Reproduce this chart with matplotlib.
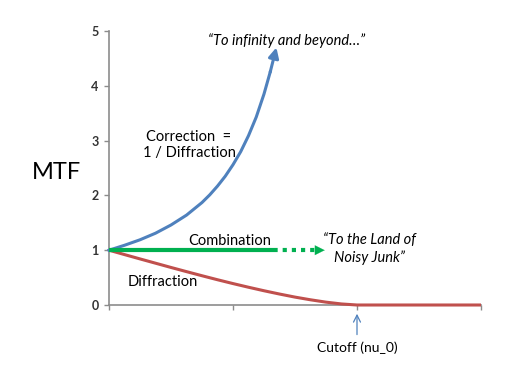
import matplotlib
matplotlib.use('Agg')
import matplotlib.pyplot as plt

# ── Data ──────────────────────────────────────────────────────────────────────
# spatial frequency (arbitrary units, cutoff at 2)
diff_x = [0.0, 0.125, 0.25, 0.375, 0.5, 0.625, 0.75, 0.875, 1.0, 1.125,
          1.25, 1.375, 1.5, 1.625, 1.75, 1.875, 2.0, 2.5, 3.0]
diff_y = [1.0, 0.920, 0.841, 0.763, 0.685, 0.609, 0.534, 0.461, 0.391, 0.324,
          0.260, 0.200, 0.144, 0.095, 0.052, 0.019, 0.0, 0.0, 0.0]

corr_x = [0.0, 0.125, 0.25, 0.375, 0.5, 0.625, 0.75, 0.8125, 0.875, 0.9375,
          1.0, 1.0625, 1.125, 1.1875, 1.25, 1.30]
corr_y = [1.0, 1.09, 1.19, 1.31, 1.46, 1.64, 1.87, 2.01, 2.17, 2.35,
          2.56, 2.80, 3.09, 3.43, 3.85, 4.25]
corr_tip = (1.35, 4.70)

comb_solid_x = [0.0, 1.35]
comb_dot_x = [1.35, 1.66]
comb_tip_x = 1.74
comb_y = 1.0

cutoff_x = 2.0
x_ticks = [0, 1, 2, 3]
y_ticks = [0, 1, 2, 3, 4, 5]

BLUE = '#4F81BD'
RED = '#C0504D'
GREEN = '#00B050'
GRAY = '#8C8C8C'

plt.rcParams['font.family'] = ['Lato', 'DejaVu Sans']

fig = plt.figure(figsize=(5.10, 3.72), dpi=100)
ax = fig.add_axes([109 / 510, 1 - 305 / 372, 372 / 510, 274 / 372])

# ── Curves ────────────────────────────────────────────────────────────────────
ax.plot(diff_x, diff_y, color=RED, lw=2.2, clip_on=False, zorder=3,
        solid_capstyle='butt')
ax.plot(corr_x, corr_y, color=BLUE, lw=2.2, clip_on=False, zorder=3,
        solid_joinstyle='round')
ax.annotate('', xy=corr_tip, xytext=(corr_x[-1], corr_y[-1]),
            arrowprops=dict(arrowstyle='-|>,head_length=0.6,head_width=0.3',
                            color=BLUE, lw=2.2, shrinkA=0, shrinkB=0))

ax.plot(comb_solid_x, [comb_y] * 2, color=GREEN, lw=3.0, zorder=4,
        solid_capstyle='butt')
ax.plot(comb_dot_x, [comb_y] * 2, color=GREEN, lw=3.0, zorder=4,
        linestyle=(0.6, (1, 1.2)), dash_capstyle='butt')
ax.annotate('', xy=(comb_tip_x, comb_y), xytext=(comb_dot_x[-1], comb_y),
            arrowprops=dict(arrowstyle='-|>,head_length=0.7,head_width=0.35',
                            color=GREEN, lw=0.1, shrinkA=0, shrinkB=0))

# ── Axes styling ──────────────────────────────────────────────────────────────
ax.set_xlim(0, 3)
ax.set_ylim(0, 5)
ax.set_xticks(x_ticks)
ax.set_xticklabels([])
ax.set_yticks(y_ticks)
for s in ('top', 'right'):
    ax.spines[s].set_visible(False)
for s in ('left', 'bottom'):
    ax.spines[s].set_color(GRAY)
    ax.spines[s].set_linewidth(1.2)
ax.tick_params(axis='both', colors=GRAY, length=3.5, width=1.0,
               direction='out')
ax.tick_params(axis='y', labelcolor='#333333', labelsize=9, pad=4)
for lbl in ax.get_yticklabels():
    lbl.set_fontweight('bold')

ax.set_ylabel('MTF', rotation=0, fontsize=17, va='center', ha='center')
ax.yaxis.set_label_coords(-0.142, 0.485)

# ── Annotations ───────────────────────────────────────────────────────────────
ax.text(1.43, 4.82, '\u201cTo infinity and beyond\u2026\u201d',
        fontsize=10.5, style='italic', ha='center', va='center')
ax.text(0.645, 2.92, 'Correction  =\n1 / Diffraction', fontsize=10.5,
        ha='center', va='center', linespacing=1.25)
ax.text(0.97, 1.17, 'Combination', fontsize=10.5, ha='center', va='center')
ax.text(2.10, 1.02, '\u201cTo the Land of\nNoisy Junk\u201d', fontsize=10.5,
        style='italic', ha='center', va='center', linespacing=1.25)
ax.text(0.435, 0.42, 'Diffraction', fontsize=10.5, ha='center', va='center')

ax.annotate('', xy=(cutoff_x, -0.16), xytext=(cutoff_x, -0.54),
            annotation_clip=False,
            arrowprops=dict(arrowstyle='->,head_length=0.5,head_width=0.25',
                            color=BLUE, lw=0.9, shrinkA=0, shrinkB=0))
ax.text(cutoff_x, -0.78, 'Cutoff (nu_0)', fontsize=10, ha='center',
        va='center', clip_on=False)

fig.savefig('out.png', dpi=100)
